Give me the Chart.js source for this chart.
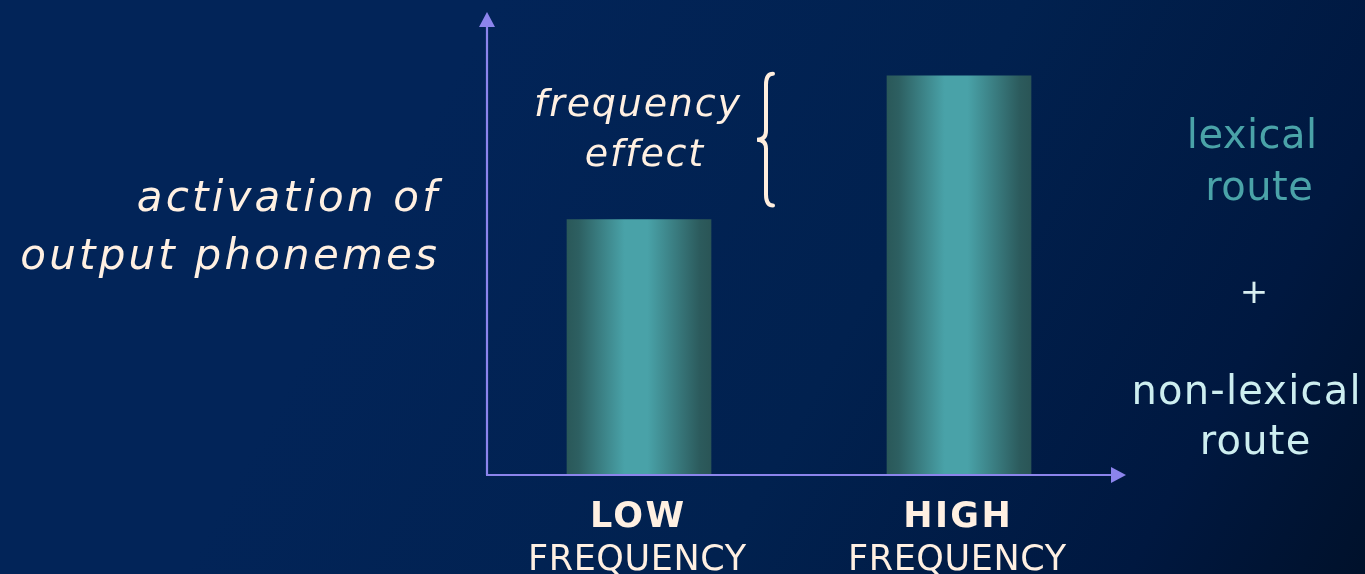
<!DOCTYPE html>
<html>
<head>
<meta charset="utf-8">
<title>Frequency effect on phoneme activation</title>
<script src="https://cdn.jsdelivr.net/npm/chart.js@4/dist/chart.umd.min.js"></script>
<style>
  html, body { margin: 0; padding: 0; background: #011d48; overflow: hidden; }
  canvas { display: block; }
</style>
</head>
<body>
<canvas id="chart" width="1365" height="574"></canvas>
<script>
// Word-frequency conditions and their activation levels
const categories = ['LOW', 'HIGH'];
const categorySub = ['FREQUENCY', 'FREQUENCY'];
const activation = [64, 100];
const yMax = 116;

// Annotation text
const yAxisLines = ['activation of', 'output phonemes'];
const effectLines = ['frequency', 'effect'];
const lexicalLines = ['lexical', 'route'];
const plusSign = '+';
const nonLexicalLines = ['non-lexical', 'route'];

const CREAM = '#fff0e2';
const AXIS = '#8c84ec';
const TEAL = '#4aa3a8';
const PALE = '#cdeef0';
const FONT = '"DejaVu Sans", Verdana, sans-serif';
const AXIS_INSET = 8;

function drawText(ctx, text, x, y, font, color, align, spacing) {
  ctx.save();
  ctx.font = font;
  ctx.fillStyle = color;
  ctx.textBaseline = 'alphabetic';
  ctx.letterSpacing = spacing + 'px';
  const w = ctx.measureText(text).width;
  let left = x;
  if (align === 'center') left = x - (w - spacing) / 2;
  else if (align === 'right') left = x - (w - spacing);
  ctx.textAlign = 'left';
  ctx.fillText(text, left, y);
  ctx.restore();
}

// Horizontal cylinder-like shading for each bar
function barGradient(context) {
  const chart = context.chart;
  if (context.type !== 'data' || !chart.chartArea) return TEAL;
  const xScale = chart.scales.x;
  const cx = xScale.getPixelForValue(context.dataIndex);
  const half = 72;
  const g = chart.ctx.createLinearGradient(cx - half, 0, cx + half, 0);
  g.addColorStop(0, '#2a5859');
  g.addColorStop(0.08, '#2d5f61');
  g.addColorStop(0.40, '#49a2a8');
  g.addColorStop(0.56, '#49a2a8');
  g.addColorStop(0.92, '#2c5b5d');
  g.addColorStop(1, '#2a5556');
  return g;
}

const backdrop = {
  id: 'backdrop',
  beforeDraw(chart) {
    const { ctx, width, height } = chart;
    const g = ctx.createLinearGradient(450, 80, width, height);
    g.addColorStop(0, '#022458');
    g.addColorStop(0.45, '#01214f');
    g.addColorStop(0.8, '#001840');
    g.addColorStop(1, '#00112b');
    ctx.save();
    ctx.fillStyle = g;
    ctx.fillRect(0, 0, width, height);
    ctx.restore();
  }
};

const arrowAxes = {
  id: 'arrowAxes',
  afterDatasetsDraw(chart) {
    const { ctx, chartArea } = chart;
    const x0 = chartArea.left + AXIS_INSET, y0 = chartArea.bottom;
    const xEnd = chartArea.right - AXIS_INSET;
    ctx.save();
    ctx.strokeStyle = AXIS;
    ctx.fillStyle = AXIS;
    ctx.lineWidth = 2.2;
    ctx.beginPath();
    ctx.moveTo(x0, y0);
    ctx.lineTo(x0, chartArea.top + 12);
    ctx.moveTo(x0 - 1, y0);
    ctx.lineTo(xEnd + 2, y0);
    ctx.stroke();
    // arrow heads
    ctx.beginPath();
    ctx.moveTo(x0, chartArea.top);
    ctx.lineTo(x0 + 8, chartArea.top + 15);
    ctx.lineTo(x0 - 8, chartArea.top + 15);
    ctx.closePath();
    ctx.fill();
    ctx.beginPath();
    ctx.moveTo(xEnd + 15, y0);
    ctx.lineTo(xEnd, y0 - 8);
    ctx.lineTo(xEnd, y0 + 8);
    ctx.closePath();
    ctx.fill();
    ctx.restore();
  }
};

const annotations = {
  id: 'annotations',
  afterDraw(chart) {
    const { ctx, chartArea, scales } = chart;
    const xs = scales.x, ys = scales.y;
    const axisX = chartArea.left + AXIS_INSET;

    // category labels under the bars
    categories.forEach((c, i) => {
      const cx = xs.getPixelForValue(i);
      drawText(ctx, c, cx - 2, 527, 'bold 35px ' + FONT, CREAM, 'center', 2.4);
      drawText(ctx, categorySub[i], cx - 2, 570, '35px ' + FONT, CREAM, 'center', 0.6);
    });

    // y-axis description
    drawText(ctx, yAxisLines[0], axisX - 50, 211, 'italic 42px ' + FONT, CREAM, 'right', 3.2);
    drawText(ctx, yAxisLines[1], axisX - 50, 269, 'italic 42px ' + FONT, CREAM, 'right', 3.2);

    // brace spanning the gap between the two bar tops
    const yTop = ys.getPixelForValue(activation[1]) - 2;
    const yBot = ys.getPixelForValue(activation[0]) - 14;
    const yMid = (yTop + yBot) / 2;
    const stem = xs.getPixelForValue(0) + 127;
    ctx.save();
    ctx.strokeStyle = '#ffeede';
    ctx.lineWidth = 4;
    ctx.lineCap = 'round';
    ctx.beginPath();
    ctx.moveTo(stem + 7, yTop);
    ctx.quadraticCurveTo(stem, yTop, stem, yTop + 11);
    ctx.lineTo(stem, yMid - 9);
    ctx.quadraticCurveTo(stem, yMid, stem - 9, yMid);
    ctx.quadraticCurveTo(stem, yMid, stem, yMid + 9);
    ctx.lineTo(stem, yBot - 11);
    ctx.quadraticCurveTo(stem, yBot, stem + 7, yBot);
    ctx.stroke();
    ctx.restore();

    // effect label beside the brace
    drawText(ctx, effectLines[0], stem - 129, 116, 'italic 38px ' + FONT, CREAM, 'center', 1.8);
    drawText(ctx, effectLines[1], stem - 122, 166, 'italic 38px ' + FONT, CREAM, 'center', 1.8);

    // route legend on the right
    drawText(ctx, lexicalLines[0], 1252, 148, '40px ' + FONT, TEAL, 'center', 0.5);
    drawText(ctx, lexicalLines[1], 1259, 200, '40px ' + FONT, TEAL, 'center', 0.5);
    drawText(ctx, plusSign, 1254, 303, '34px ' + FONT, '#d8eef0', 'center', 0);
    drawText(ctx, nonLexicalLines[0], 1246, 404, '40px ' + FONT, PALE, 'center', 1.2);
    drawText(ctx, nonLexicalLines[1], 1255, 454, '40px ' + FONT, PALE, 'center', 1.2);
  }
};

new Chart(document.getElementById('chart'), {
  type: 'bar',
  data: {
    labels: categories,
    datasets: [{
      data: activation,
      backgroundColor: barGradient,
      borderWidth: 0,
      barThickness: 144
    }]
  },
  options: {
    responsive: false,
    animation: false,
    events: [],
    layout: { padding: { left: 479, right: 246, top: 12, bottom: 99 } },
    scales: {
      x: { display: false, offset: true },
      y: { display: false, min: 0, max: yMax }
    },
    plugins: {
      legend: { display: false },
      tooltip: { enabled: false }
    }
  },
  plugins: [backdrop, arrowAxes, annotations]
});
</script>
</body>
</html>
